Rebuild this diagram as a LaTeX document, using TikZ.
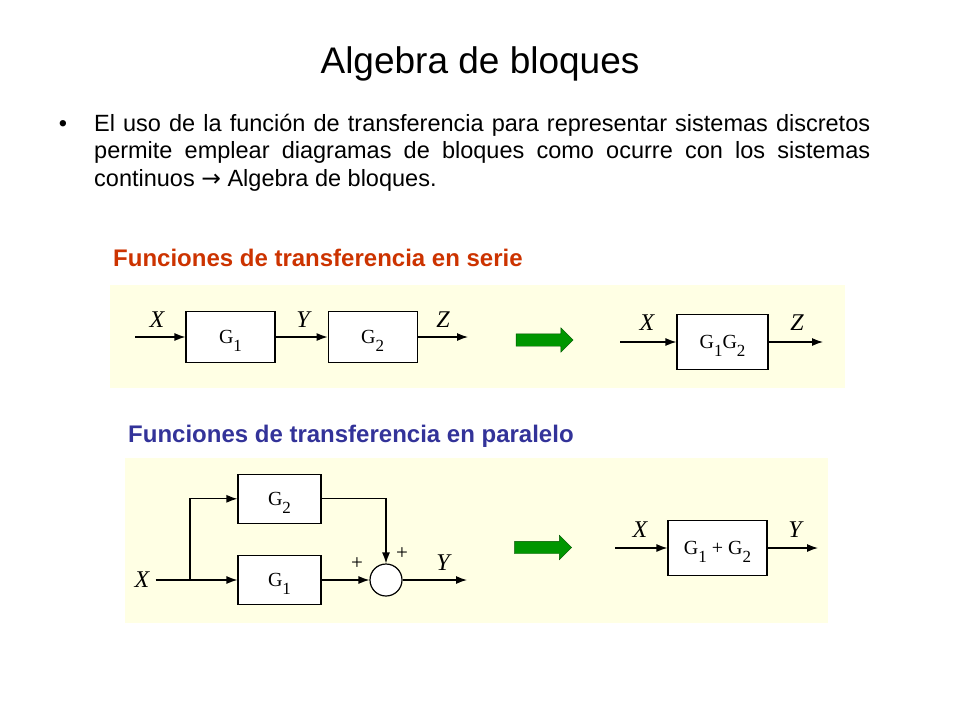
\documentclass[tikz,border=0pt]{standalone}
\usepackage{fontspec}
\setmainfont{Liberation Sans}
\newfontfamily\blockfont{Liberation Serif}
\newfontfamily\arrowfont{DejaVu Sans}
\usetikzlibrary{arrows.meta, shapes.arrows, positioning}
\definecolor{panelyellow}{RGB}{255,255,228}
\definecolor{serieorange}{RGB}{204,51,0}
\definecolor{parblue}{RGB}{51,51,153}
\definecolor{arrowgreen}{RGB}{0,150,0}
\newcommand{\blocksub}[1]{\smash{\raisebox{-8pt}{\fontsize{17}{17}\selectfont #1}}}
\tikzset{
	block/.style={
		rectangle, 
		draw=black, 
		fill=white,
		line width=1.2pt,
		minimum width=89pt, 
		minimum height=51pt, 
		text centered, 
		font=\blockfont\fontsize{20}{20}\selectfont
	},
	sumnode/.style={
		circle, 
		draw=black, 
		fill=white,
		line width=1.2pt,
		minimum size=32pt, 
		inner sep=0pt
	},
	signal/.style={font=\blockfont\itshape\fontsize{24}{24}\selectfont, inner sep=0pt},
	sign/.style={font=\blockfont\fontsize{21}{21}\selectfont, inner sep=0pt},
	heading/.style={font=\bfseries\fontsize{24}{28}\selectfont, anchor=base west, inner sep=0pt},
	bigarrow/.style={
		single arrow, 
		draw=arrowgreen!55!black, 
		fill=arrowgreen,
		minimum height=57pt, 
		inner sep=6pt,
		single arrow head extend=6pt,
		single arrow tip angle=90
	},
	panel/.style={fill=panelyellow},
	line/.style={line width=1.2pt},
	arrow/.style={line width=1.2pt,-{Latex[length=11pt,width=8pt]}}
}

\begin{document}
\begin{tikzpicture}[x=1pt,y=-1pt]
	\useasboundingbox (0,0) rectangle (960,720);
	\node (title) [font=\fontsize{37}{44}\selectfont, anchor=base] at (480,73) {Algebra de bloques};
	\node (dot) [font=\fontsize{23.5}{28}\selectfont, anchor=base] at (63,131) {\textbullet};
	\node (intro) [font=\fontsize{23.5}{27.5}\selectfont, anchor=base west, inner sep=0pt, text width=776pt, align=justify] at (94,131) {El uso de la función de transferencia para representar sistemas discretos\linebreak permite emplear diagramas de bloques como ocurre con los sistemas\linebreak continuos {\arrowfont →} Algebra de bloques.};
	
	% serie
	\node (serietitle) [heading, text=serieorange] at (113,266) {Funciones de transferencia en serie};
	\fill [panel] (110,285) rectangle (845,388);
	\node (g1s) [block] at (230.5,337) {G\blocksub{1}};
	\node (g2s) [block, right=52pt of g1s] {G\blocksub{2}};
	\coordinate (ins) at (135,337);
	\coordinate (outs) at (468,337);
	\node (xs) [signal] at (157,320) {X};
	\node (ys) [signal] at (303,320) {Y};
	\node (zs) [signal] at (443,320) {Z};
	\draw [arrow] (ins) -- (g1s);
	\draw [arrow] (g1s) -- (g2s);
	\draw [arrow] (g2s) -- (outs);
	
	\node (gas) [bigarrow] at (541.5,340) {};
	
	\node (g12s) [block, minimum width=91pt, minimum height=55pt] at (722.5,342) {G\blocksub{1}G\blocksub{2}};
	\coordinate (inr) at (620,342);
	\coordinate (outr) at (823,342);
	\node (xr) [signal] at (647,323) {X};
	\node (zr) [signal] at (797,323) {Z};
	\draw [arrow] (inr) -- (g12s);
	\draw [arrow] (g12s) -- (outr);
	
	% paralelo
	\node (partitle) [heading, text=parblue] at (128,442) {Funciones de transferencia en paralelo};
	\fill [panel] (125,458) rectangle (828,623);
	\node (g1p) [block, minimum width=83pt, minimum height=49pt] at (279.5,580) {G\blocksub{1}};
	\node (g2p) [block, minimum width=83pt, minimum height=49pt, above=31pt of g1p] {G\blocksub{2}};
	\node (sum) [sumnode] at (386,580) {};
	\node (xp) [signal, inner sep=6pt] at (142,580) {X};
	\coordinate (split) at (190,580);
	\coordinate (outp) at (467,580);
	\draw [line] (xp) -- (split);
	\draw [arrow] (split) -- (g1p);
	\draw [arrow] (split) |- (g2p);
	\draw [arrow] (g2p) -| (sum);
	\draw [arrow] (g1p) -- (sum);
	\draw [arrow] (sum) -- (outp);
	\node (plusa) [sign] at (402,554) {+};
	\node (plusb) [sign] at (357,564) {+};
	\node (yp) [signal] at (443,563) {Y};
	
	\node (gap) [bigarrow] at (540,547.5) {};
	
	\node (g12p) [block, minimum width=99pt, minimum height=55pt] at (717.5,548) {G\blocksub{1} + G\blocksub{2}};
	\coordinate (inq) at (615,548);
	\coordinate (outq) at (818,548);
	\node (xq) [signal] at (640,530) {X};
	\node (yq) [signal] at (795,530) {Y};
	\draw [arrow] (inq) -- (g12p);
	\draw [arrow] (g12p) -- (outq);
\end{tikzpicture}
\end{document}
